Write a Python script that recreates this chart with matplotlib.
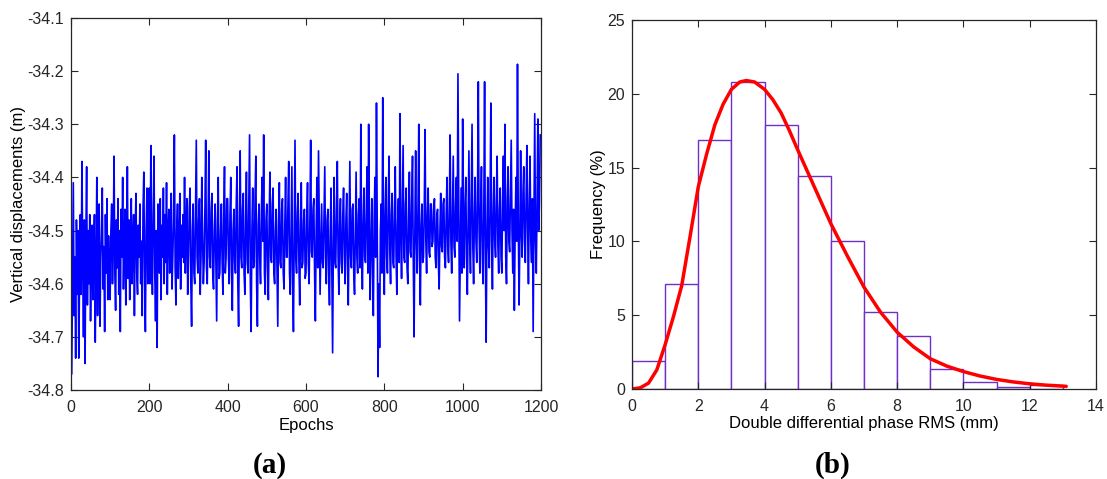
import numpy as np
import matplotlib
matplotlib.use("Agg")
import matplotlib.pyplot as plt

plt.rcParams['font.family'] = ['Liberation Sans', 'DejaVu Sans']

# ---- (a) vertical displacement series, read every 2 epochs ----
step = 2
seg_0 = [-34.52, -34.77, -34.60, -34.41, -34.66, -34.55, -34.74, -34.48, -34.62, -34.50,
         -34.74, -34.58, -34.47, -34.62, -34.37, -34.55, -34.70, -34.48, -34.75, -34.52,
         -34.38, -34.64, -34.50, -34.60, -34.47, -34.67, -34.55, -34.49, -34.63, -34.53,
         -34.47, -34.71, -34.58, -34.40, -34.66, -34.52, -34.45, -34.68, -34.56, -34.50,
         -34.42, -34.61, -34.53, -34.69, -34.47, -34.58, -34.44, -34.63, -34.51, -34.60]
seg_1 = [-34.63, -34.50, -34.45, -34.60, -34.52, -34.36, -34.58, -34.65, -34.48, -34.57,
         -34.44, -34.62, -34.50, -34.69, -34.46, -34.55, -34.40, -34.61, -34.52, -34.46,
         -34.64, -34.55, -34.38, -34.59, -34.48, -34.63, -34.51, -34.44, -34.60, -34.53,
         -34.47, -34.66, -34.50, -34.43, -34.58, -34.62, -34.49, -34.55, -34.45, -34.60,
         -34.52, -34.66, -34.46, -34.39, -34.58, -34.69, -34.50, -34.42, -34.60, -34.55]
seg_2 = [-34.42, -34.60, -34.34, -34.55, -34.62, -34.47, -34.36, -34.58, -34.67, -34.50,
         -34.72, -34.45, -34.52, -34.58, -34.44, -34.63, -34.49, -34.55, -34.42, -34.60,
         -34.47, -34.56, -34.41, -34.62, -34.50, -34.46, -34.58, -34.52, -34.43, -34.61,
         -34.55, -34.48, -34.32, -34.57, -34.64, -34.50, -34.45, -34.59, -34.52, -34.43,
         -34.61, -34.49, -34.55, -34.47, -34.56, -34.40, -34.58, -34.50, -34.44, -34.62]
seg_3 = [-34.55, -34.46, -34.42, -34.60, -34.68, -34.50, -34.45, -34.58, -34.60, -34.47,
         -34.33, -34.55, -34.58, -34.48, -34.44, -34.62, -34.55, -34.40, -34.51, -34.60,
         -34.56, -34.46, -34.33, -34.57, -34.60, -34.49, -34.35, -34.55, -34.57, -34.46,
         -34.43, -34.58, -34.61, -34.50, -34.45, -34.56, -34.67, -34.48, -34.40, -34.59,
         -34.58, -34.50, -34.45, -34.56, -34.62, -34.47, -34.38, -34.58, -34.55, -34.44]
seg_4 = [-34.44, -34.55, -34.60, -34.47, -34.40, -34.58, -34.65, -34.50, -34.46, -34.56,
         -34.58, -34.45, -34.38, -34.60, -34.68, -34.49, -34.35, -34.55, -34.57, -34.46,
         -34.43, -34.58, -34.62, -34.48, -34.39, -34.56, -34.58, -34.45, -34.32, -34.60,
         -34.69, -34.50, -34.42, -34.57, -34.56, -34.44, -34.36, -34.60, -34.68, -34.49,
         -34.45, -34.55, -34.60, -34.47, -34.40, -34.52, -34.32, -34.58, -34.62, -34.48]
seg_5 = [-34.45, -34.57, -34.63, -34.48, -34.39, -34.55, -34.56, -34.45, -34.42, -34.58,
         -34.60, -34.50, -34.46, -34.57, -34.68, -34.49, -34.41, -34.56, -34.57, -34.46,
         -34.44, -34.58, -34.61, -34.49, -34.40, -34.55, -34.55, -34.45, -34.37, -34.58,
         -34.62, -34.50, -34.38, -34.60, -34.69, -34.52, -34.33, -34.55, -34.58, -34.47,
         -34.43, -34.56, -34.64, -34.49, -34.41, -34.57, -34.56, -34.48, -34.46, -34.59]
seg_6 = [-34.58, -34.47, -34.41, -34.56, -34.60, -34.48, -34.33, -34.54, -34.55, -34.46,
         -34.44, -34.58, -34.67, -34.50, -34.40, -34.57, -34.35, -34.49, -34.62, -34.53,
         -34.45, -34.56, -34.57, -34.47, -34.38, -34.55, -34.60, -34.48, -34.46, -34.58,
         -34.64, -34.50, -34.42, -34.57, -34.73, -34.52, -34.40, -34.56, -34.57, -34.46,
         -34.37, -34.55, -34.62, -34.49, -34.44, -34.56, -34.58, -34.47, -34.42, -34.55]
seg_7 = [-34.60, -34.48, -34.43, -34.56, -34.64, -34.50, -34.37, -34.55, -34.57, -34.46,
         -34.45, -34.58, -34.62, -34.50, -34.39, -34.55, -34.58, -34.47, -34.44, -34.57,
         -34.30, -34.52, -34.61, -34.49, -34.42, -34.55, -34.56, -34.46, -34.38, -34.58,
         -34.30, -34.50, -34.63, -34.52, -34.44, -34.57, -34.66, -34.48, -34.40, -34.55,
         -34.26, -34.50, -34.775, -34.60, -34.72, -34.50, -34.45, -34.58, -34.25, -34.52]
seg_8 = [-34.62, -34.47, -34.40, -34.55, -34.58, -34.45, -34.36, -34.54, -34.60, -34.47,
         -34.43, -34.56, -34.57, -34.46, -34.38, -34.55, -34.62, -34.49, -34.44, -34.56,
         -34.28, -34.50, -34.59, -34.47, -34.34, -34.55, -34.56, -34.45, -34.42, -34.57,
         -34.60, -34.48, -34.39, -34.54, -34.55, -34.44, -34.36, -34.56, -34.70, -34.50,
         -34.35, -34.52, -34.58, -34.46, -34.30, -34.55, -34.64, -34.49, -34.45, -34.56]
seg_9 = [-34.55, -34.46, -34.31, -34.52, -34.58, -34.47, -34.42, -34.54, -34.55, -34.45,
         -34.45, -34.53, -34.52, -34.46, -34.44, -34.55, -34.57, -34.47, -34.46, -34.56,
         -34.61, -34.50, -34.43, -34.53, -34.54, -34.45, -34.44, -34.55, -34.57, -34.47,
         -34.40, -34.53, -34.56, -34.46, -34.32, -34.52, -34.58, -34.47, -34.36, -34.53,
         -34.55, -34.45, -34.40, -34.52, -34.205, -34.45, -34.67, -34.55, -34.42, -34.58]
seg_10 = [-34.29, -34.50, -34.57, -34.45, -34.40, -34.55, -34.62, -34.48, -34.35, -34.52,
          -34.58, -34.44, -34.30, -34.53, -34.60, -34.47, -34.40, -34.52, -34.56, -34.44,
          -34.22, -34.50, -34.58, -34.46, -34.38, -34.54, -34.60, -34.47, -34.22, -34.55,
          -34.71, -34.50, -34.40, -34.53, -34.57, -34.45, -34.26, -34.52, -34.61, -34.47,
          -34.40, -34.52, -34.55, -34.44, -34.36, -34.53, -34.58, -34.46, -34.42, -34.55]
seg_11 = [-34.58, -34.45, -34.36, -34.50, -34.30, -34.55, -34.60, -34.44, -34.38, -34.52,
          -34.54, -34.43, -34.33, -34.50, -34.58, -34.46, -34.65, -34.50, -34.40, -34.52,
          -34.187, -34.48, -34.64, -34.52, -34.35, -34.50, -34.55, -34.43, -34.38, -34.52,
          -34.56, -34.44, -34.34, -34.50, -34.60, -34.45, -34.36, -34.52, -34.56, -34.44,
          -34.69, -34.48, -34.28, -34.52, -34.58, -34.45, -34.29, -34.50, -34.45, -34.32]

displacement = np.array(seg_0 + seg_1 + seg_2 + seg_3 + seg_4 + seg_5 + seg_6 + seg_7 + seg_8 + seg_9 + seg_10 + seg_11)
epochs = np.arange(len(displacement)) * step

# ---- (b) histogram of RMS (%), bins of 1 mm ----
bin_left = np.arange(0, 13)
freq = [1.9, 7.1, 16.9, 20.8, 17.9, 14.4, 10.0, 5.2, 3.6, 1.35, 0.45, 0.15, 0.3]

# fitted curve
fit_x = [0, 0.25, 0.5, 0.75, 1.0, 1.25, 1.5, 1.75, 2.0, 2.25, 2.5, 2.75, 3.0, 3.25, 3.45, 3.7, 4.0, 4.25, 4.5,
         4.75, 5.0, 5.5, 6.0, 6.5, 7.0, 7.5, 8.0, 8.5, 9.0, 9.5, 10.0, 10.5, 11.0, 11.5, 12.0, 12.5, 13.1]
fit_y = [0.0, 0.08, 0.4, 1.3, 3.0, 4.9, 7.0, 10.3, 13.7, 15.9, 17.9, 19.3, 20.3, 20.8, 20.9, 20.8, 20.3, 19.6, 18.7,
         17.5, 16.2, 13.7, 11.2, 9.0, 6.9, 5.2, 3.85, 2.85, 2.05, 1.55, 1.18, 0.88, 0.65, 0.48, 0.35, 0.26, 0.18]

fig = plt.figure(figsize=(11.07, 4.79), dpi=100)

ax1 = fig.add_axes([0.0641, 0.1858, 0.4246, 0.7766])
ax1.plot(epochs, displacement, color='blue', linewidth=1.2)
ax1.set_xlim(0, 1200)
ax1.set_ylim(-34.8, -34.1)
ax1.set_xticks(np.arange(0, 1201, 200))
ax1.set_yticks(np.arange(-34.8, -34.05, 0.1))
ax1.set_yticklabels(['%.1f' % v for v in np.arange(-34.8, -34.05, 0.1)])
ax1.set_xlabel('Epochs', fontsize=12, labelpad=2)
ax1.set_ylabel('Vertical displacements (m)', fontsize=12, labelpad=1)

ax2 = fig.add_axes([0.5709, 0.1879, 0.4192, 0.7703])
ax2.bar(bin_left, freq, width=1, align='edge', facecolor='white', edgecolor='#7030c8', linewidth=1.0)
ax2.plot(fit_x, fit_y, color='red', linewidth=2.5, solid_capstyle='round', solid_joinstyle='round')
ax2.set_xlim(0, 14)
ax2.set_ylim(0, 25)
ax2.set_xticks(np.arange(0, 15, 2))
ax2.set_yticks(np.arange(0, 26, 5))
ax2.set_xlabel('Double differential phase RMS (mm)', fontsize=12, labelpad=2)
ax2.set_ylabel('Frequency (%)', fontsize=12, labelpad=1)

for ax in (ax1, ax2):
    ax.tick_params(direction='in', top=True, right=True, labelsize=11.5, length=5, width=0.8, colors='#262626')
    ax.tick_params(axis='x', pad=7)
    ax.tick_params(axis='y', pad=5)
    for s in ax.spines.values():
        s.set_linewidth(0.9)
        s.set_color('#262626')

fig.text(0.244, 0.029, '(a)', fontsize=21, fontweight='bold', family='Liberation Serif', ha='center', va='center')
fig.text(0.752, 0.029, '(b)', fontsize=21, fontweight='bold', family='Liberation Serif', ha='center', va='center')

fig.savefig('out.png', dpi=100)
